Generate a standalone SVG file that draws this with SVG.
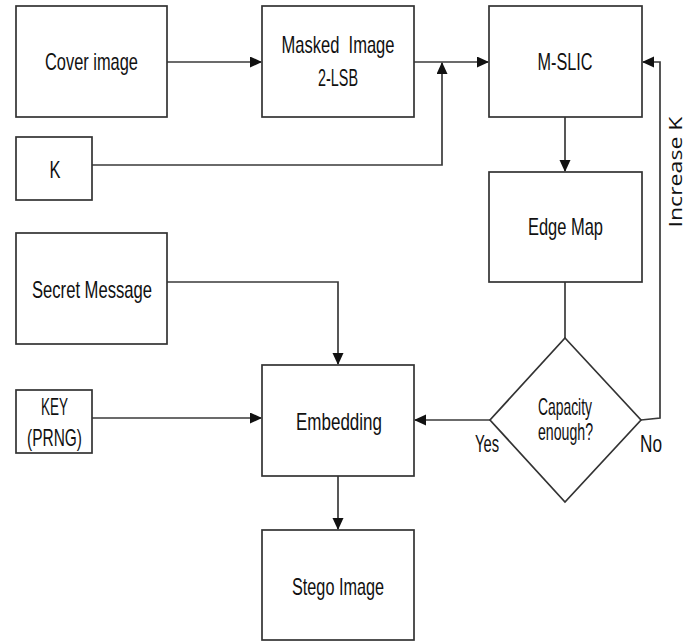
<svg xmlns="http://www.w3.org/2000/svg" width="696" height="641" viewBox="0 0 696 641">
<defs>
<marker id="ah" markerWidth="12" markerHeight="12" refX="11" refY="5.5" orient="auto" markerUnits="userSpaceOnUse">
<path d="M0,0 L12,5.5 L0,11 Z" fill="#111"/>
</marker>
<style>
.box{fill:#fff;stroke:#333;stroke-width:1.7}
.ln{fill:none;stroke:#3a3a3a;stroke-width:1.7}
.t{font-family:"Liberation Sans Narrow","Liberation Sans",Arial,sans-serif;font-size:24px;fill:#111;text-anchor:middle}
.r{font-family:"Open Sans","DejaVu Sans",sans-serif;font-size:18px;fill:#111;text-anchor:middle}
</style>
</defs>
<rect width="696" height="641" fill="#fff"/>
<g id="connectors">
<line class="ln" x1="167" y1="62" x2="261" y2="62" marker-end="url(#ah)"/>
<line class="ln" x1="414" y1="62" x2="488" y2="62" marker-end="url(#ah)"/>
<polyline class="ln" points="92,165 442,165 442,63" marker-end="url(#ah)"/>
<line class="ln" x1="565" y1="117" x2="565" y2="171" marker-end="url(#ah)"/>
<line class="ln" x1="565" y1="282" x2="565" y2="338"/>
<polyline class="ln" points="641,420 660,418 660,62 643,62" marker-end="url(#ah)"/>
<line class="ln" x1="490" y1="420" x2="415" y2="420" marker-end="url(#ah)"/>
<polyline class="ln" points="167,282 338,282 338,364" marker-end="url(#ah)"/>
<line class="ln" x1="92" y1="418" x2="261" y2="418" marker-end="url(#ah)"/>
<line class="ln" x1="338" y1="476" x2="338" y2="529" marker-end="url(#ah)"/>
<text class="r" transform="translate(682,172) rotate(-90)" textLength="111" lengthAdjust="spacingAndGlyphs">Increase K</text>
<text class="t" x="487" y="452" font-size="21" textLength="24" lengthAdjust="spacingAndGlyphs">Yes</text>
<text class="t" x="651" y="452" font-size="21" textLength="22" lengthAdjust="spacingAndGlyphs">No</text>
</g>
<g id="cover"><rect class="box" x="16" y="6" width="151" height="111"/><text class="t" x="91.5" y="70" textLength="93" lengthAdjust="spacingAndGlyphs">Cover image</text></g>
<g id="masked"><rect class="box" x="262" y="6" width="152" height="111"/><text class="t" x="338" y="53" textLength="113" lengthAdjust="spacingAndGlyphs" xml:space="preserve">Masked  Image</text><text class="t" x="338" y="86" textLength="40" lengthAdjust="spacingAndGlyphs">2-LSB</text></g>
<g id="mslic"><rect class="box" x="489" y="6" width="153" height="111"/><text class="t" x="565" y="70" textLength="55" lengthAdjust="spacingAndGlyphs">M-SLIC</text></g>
<g id="k"><rect class="box" x="16" y="137" width="76" height="63"/><text class="t" x="55" y="178" textLength="11" lengthAdjust="spacingAndGlyphs">K</text></g>
<g id="edgemap"><rect class="box" x="489" y="172" width="153" height="110"/><text class="t" x="565.5" y="235" textLength="75" lengthAdjust="spacingAndGlyphs">Edge Map</text></g>
<g id="secret"><rect class="box" x="16" y="233" width="151" height="111"/><text class="t" x="92" y="298" textLength="120" lengthAdjust="spacingAndGlyphs">Secret Message</text></g>
<g id="key"><rect class="box" x="16" y="390" width="76" height="63"/><text class="t" x="54.5" y="415" textLength="27" lengthAdjust="spacingAndGlyphs">KEY</text><text class="t" x="54.5" y="446" textLength="55" lengthAdjust="spacingAndGlyphs">(PRNG)</text></g>
<g id="capacity"><polygon class="box" points="565,338 641,420 565,502 490,420"/><text class="t" x="565" y="415" font-size="20" textLength="54" lengthAdjust="spacingAndGlyphs">Capacity</text><text class="t" x="565.5" y="440" font-size="20" textLength="55" lengthAdjust="spacingAndGlyphs">enough?</text></g>
<g id="embedding"><rect class="box" x="262" y="365" width="152" height="111"/><text class="t" x="339" y="430" textLength="86" lengthAdjust="spacingAndGlyphs">Embedding</text></g>
<g id="stego"><rect class="box" x="262" y="530" width="152" height="110"/><text class="t" x="338" y="595" textLength="92" lengthAdjust="spacingAndGlyphs">Stego Image</text></g>
</svg>
